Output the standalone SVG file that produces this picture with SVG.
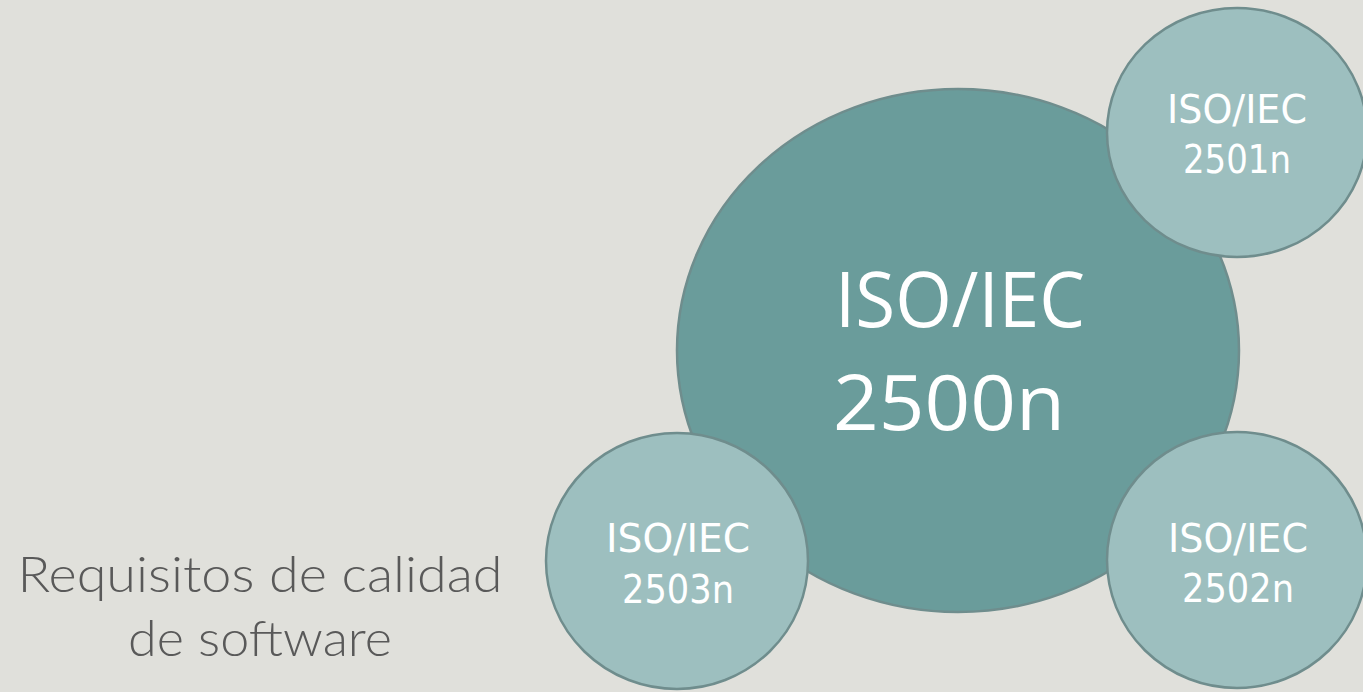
<svg xmlns="http://www.w3.org/2000/svg" width="1363" height="692" viewBox="0 0 1363 692">
<style>
.bg{fill:#E0E0DB}
.main{fill:#6A9C9B;stroke:#6F8D8D;stroke-width:2.5}
.sat{fill:#9DBFBF;stroke:#6F8D8D;stroke-width:2.5}
.big{font-family:"Open Sans","Liberation Sans",sans-serif;font-size:76px;fill:#FFFFFF;text-anchor:middle}
.small{font-family:"DejaVu Sans","Liberation Sans",sans-serif;font-size:39px;fill:#FFFFFF;text-anchor:middle}
.side{font-family:"Lato","Open Sans",sans-serif;font-weight:300;font-size:50px;fill:#595959;text-anchor:middle}
</style>
<rect class="bg" x="0" y="0" width="1363" height="692"/>
<g id="main">
<ellipse class="main" cx="958" cy="350.5" rx="281" ry="261.5"/>
<text class="big" x="960" y="327" textLength="250" lengthAdjust="spacingAndGlyphs">ISO/IEC</text>
<text class="big" x="949" y="430" textLength="232" lengthAdjust="spacingAndGlyphs">2500n</text>
</g>
<g id="n2501">
<ellipse class="sat" cx="1237" cy="132.5" rx="130" ry="124.5"/>
<text class="small" x="1237" y="123" textLength="140" lengthAdjust="spacingAndGlyphs">ISO/IEC</text>
<text class="small" x="1237" y="173" textLength="108" lengthAdjust="spacingAndGlyphs">2501n</text>
</g>
<g id="n2502">
<ellipse class="sat" cx="1237" cy="560" rx="130" ry="128"/>
<text class="small" x="1238" y="552" textLength="140" lengthAdjust="spacingAndGlyphs">ISO/IEC</text>
<text class="small" x="1238" y="602" textLength="112" lengthAdjust="spacingAndGlyphs">2502n</text>
</g>
<g id="n2503">
<ellipse class="sat" cx="677" cy="561" rx="131" ry="128"/>
<text class="small" x="678" y="552" textLength="144" lengthAdjust="spacingAndGlyphs">ISO/IEC</text>
<text class="small" x="678" y="603" textLength="112" lengthAdjust="spacingAndGlyphs">2503n</text>
</g>
<g id="connectors"></g>
<g id="caption">
<text class="side" x="260" y="592" textLength="485" lengthAdjust="spacingAndGlyphs">Requisitos de calidad</text>
<text class="side" x="260" y="656" textLength="264" lengthAdjust="spacingAndGlyphs">de software</text>
</g>
</svg>
